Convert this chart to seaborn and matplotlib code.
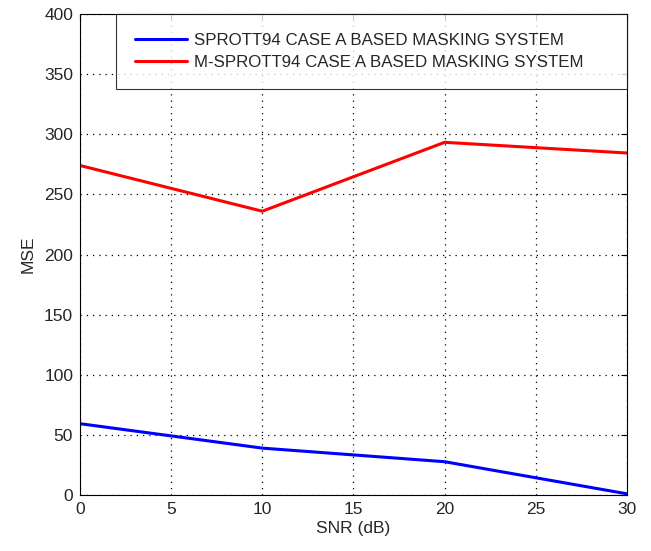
import pandas as pd
import seaborn as sns
import matplotlib.pyplot as plt

snr = [0, 10, 20, 30]
mse_sprott = [59.3, 39.0, 27.7, 1.0]
mse_msprott = [274.0, 236.0, 293.3, 284.4]
labels = ['SPROTT94 CASE A BASED MASKING SYSTEM', 'M-SPROTT94 CASE A BASED MASKING SYSTEM']

df = pd.DataFrame({
    'SNR': snr * 2,
    'MSE': mse_sprott + mse_msprott,
    'System': [labels[0]] * len(snr) + [labels[1]] * len(snr),
})

sns.set_style('white')
plt.rcParams['font.family'] = ['Liberation Sans', 'DejaVu Sans']

fig = plt.figure(figsize=(6.51, 5.51), dpi=100)
ax = fig.add_axes([0.123, 0.1016, 0.84, 0.873])
sns.lineplot(data=df, x='SNR', y='MSE', hue='System', palette=['#0000ff', '#ff0000'],
             linewidth=2.2, ax=ax)

ax.set_xlim(0, 30)
ax.set_ylim(0, 400)
ax.set_xticks(range(0, 31, 5))
ax.set_yticks(range(0, 401, 50))
ax.grid(True, color='black', linestyle=(0, (1, 4)), linewidth=0.9)
ax.tick_params(direction='in', top=True, right=True, labelsize=12.5, length=4, color='black', pad=5)
for s in ax.spines.values():
    s.set_color('black')
    s.set_linewidth(0.8)
ax.set_xlabel('SNR (dB)', fontsize=12.5, labelpad=3)
ax.set_ylabel('MSE', fontsize=12.5, labelpad=6)

# legend box stretched to the left like the MATLAB one
leg = ax.legend(loc='upper right', bbox_to_anchor=(0.066, 0.5, 0.934, 0.5), mode='expand',
                fontsize=12.2, frameon=True, fancybox=False,
                borderaxespad=0, handlelength=3.1, handletextpad=0.4,
                borderpad=1.1, labelspacing=0.45)
leg.get_frame().set_edgecolor('black')
leg.get_frame().set_linewidth(0.8)

fig.savefig('out.png', dpi=100, facecolor='white')
